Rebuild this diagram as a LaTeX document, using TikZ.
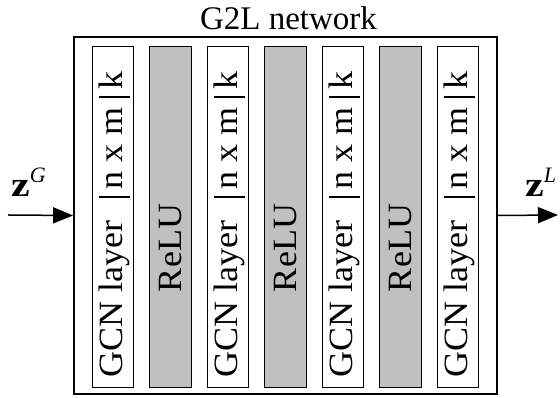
\documentclass[tikz,border=0pt]{standalone}
\usepackage{fontspec}
\setmainfont{Liberation Serif}
\usetikzlibrary{arrows.meta}
\definecolor{barGray}{RGB}{192,192,192}
\newcommand\zlab[1]{\scalebox{1.2}[1]{\fontsize{35}{35}\selectfont\bfseries z}\raisebox{14pt}{\fontsize{22}{22}\selectfont\itshape #1}}
\newcommand\stretchtxt[1]{\scalebox{1.06}[1]{#1}}
\begin{document}
\begin{tikzpicture}[x=1pt,y=1pt,
  bartxt/.style={font=\fontsize{34}{34}\selectfont, inner sep=0, rotate=90, anchor=base west},
  relutxt/.style={font=\fontsize{34}{34}\selectfont, inner sep=0, rotate=90, anchor=base},
  gcnbar/.style={draw=black, line width=0.8, fill=white, minimum width=41.5, minimum height=341, inner sep=0},
  relubar/.style={gcnbar, fill=barGray},
  sepline/.style={line width=2.2},
  io/.style={line width=1.5, -{Triangle[length=20pt,width=16pt]}},
  lbl/.style={anchor=base west, inner sep=0},
]
\useasboundingbox (0,0) rectangle (560,398);
\node[draw, line width=1.8, minimum width=423, minimum height=357, inner sep=0] (net) at (285.5,182.5) {};
\node[font=\fontsize{33}{33}\selectfont, anchor=base, inner sep=0] (title) at (288.5,368) {G2L network};
\foreach \n/\i in {g1/0,g2/2,g3/4,g4/6}{
  \node[gcnbar] (\n) at ({112.75+\i*57.5},181.5) {};
  \node[bartxt] (\n-a) at ([xshift=9.75pt]\n.center |- 0,20) {\stretchtxt{GCN layer}};
  \node[bartxt] (\n-b) at ([xshift=9.75pt]\n.center |- 0,208) {\stretchtxt{n x m}};
  \node[bartxt] (\n-c) at ([xshift=9.75pt]\n.center |- 0,308) {\stretchtxt{k}};
  \draw[sepline] ([xshift=-13.75pt]\n.center |- 0,201) -- ([xshift=17.25pt]\n.center |- 0,201);
  \draw[sepline] ([xshift=-13.75pt]\n.center |- 0,301) -- ([xshift=17.25pt]\n.center |- 0,301);
}
\foreach \n/\i in {r1/1,r2/3,r3/5}{
  \node[relubar] (\n) at ({112.75+\i*57.5},181.5) {};
  \node[relutxt] (\n-a) at ([xshift=11.5pt]\n.center |- 0,150) {\stretchtxt{ReLU}};
}
\coordinate (in) at (8,183);
\coordinate (out) at (558,183);
\draw[io] (in) -- (net.west);
\draw[io] (net.east) -- (out);
\node[lbl] (zG) at (11,201) {\zlab{G}};
\node[lbl] (zL) at (525,201) {\zlab{L}};
\end{tikzpicture}
\end{document}
